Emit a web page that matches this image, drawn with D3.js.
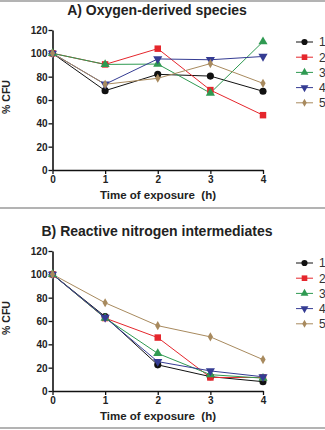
<!DOCTYPE html>
<html>
<head>
<meta charset="utf-8">
<script src="https://cdn.jsdelivr.net/npm/d3@7"></script>
<style>
  body { margin: 0; background: #fff; }
  text { font-family: "Liberation Sans", Arial, sans-serif; }
</style>
</head>
<body>
<div id="chart"></div>
<script>
const hours = [0, 1, 2, 3, 4];
const seriesNames = ["1", "2", "3", "4", "5"];
const yTicks = [0, 20, 40, 60, 80, 100, 120];

// A) oxygen-derived species, % CFU per series
const oxyS1 = [100, 68, 82, 80.5, 67.5];
const oxyS2 = [100, 90.5, 104, 68.5, 47];
const oxyS3 = [100, 90.5, 90.8, 66, 110];
const oxyS4 = [100, 73.5, 95.2, 94.5, 97.3];
const oxyS5 = [100, 73.5, 78.6, 91.2, 74.3];

// B) reactive nitrogen intermediates, % CFU per series
const rniS1 = [100, 63.8, 22.4, 12.3, 8];
const rniS2 = [100, 62.5, 45.8, 11.6, 11.6];
const rniS3 = [100, 62.5, 32.2, 14, 11];
const rniS4 = [100, 63, 25.2, 17.2, 12.2];
const rniS5 = [100, 75.6, 56, 46.4, 26.9];

const colors = ["#111111", "#e5262c", "#2f9a52", "#353c93", "#a88a5e"];
const symbols = [d3.symbolCircle, d3.symbolSquare, d3.symbolTriangle, d3.symbolTriangle, d3.symbolDiamond];
const symSize = [40, 42, 36, 36, 24];

const W = 325, H = 430;
const svg = d3.select("#chart").append("svg")
  .attr("width", W).attr("height", H);

// gray panel separators
[1, 208, 428].forEach(y => {
  svg.append("line")
     .attr("x1", 0).attr("x2", W).attr("y1", y).attr("y2", y)
     .attr("stroke", "#9a9a9a").attr("stroke-width", 1.5);
});

function panel(top, title, series) {
  const g = svg.append("g").attr("transform", "translate(0," + top + ")");
  const x = d3.scaleLinear().domain([0, 4]).range([52.5, 263]);
  const y = d3.scaleLinear().domain([0, 120]).range([170, 30]);

  g.append("text")
   .attr("x", 157).attr("y", 15)
   .attr("text-anchor", "middle")
   .style("font-size", "14px").style("font-weight", "bold")
   .attr("fill", "#222")
   .text(title);

  const xAxis = g.append("g")
     .attr("transform", "translate(0," + y(0) + ")")
     .call(d3.axisBottom(x).tickValues(hours).tickFormat(d3.format("d")).tickSize(4).tickSizeOuter(0));
  const yAxis = g.append("g")
     .attr("transform", "translate(" + x(0) + ",0)")
     .call(d3.axisLeft(y).tickValues(yTicks).tickSize(4).tickSizeOuter(0));

  [xAxis, yAxis].forEach(a => {
    a.select(".domain").attr("stroke", "#111").attr("stroke-width", 1.6);
    a.selectAll(".tick line").attr("stroke", "#111").attr("stroke-width", 1.3);
    a.selectAll(".tick text")
     .attr("fill", "#222")
     .style("font-size", "10px").style("font-weight", "bold");
  });
  yAxis.selectAll(".tick text").attr("x", -5).attr("dy", "0.35em");
  xAxis.selectAll(".tick text").attr("y", 6);

  g.append("text")
   .attr("x", 158).attr("y", 199)
   .attr("text-anchor", "middle")
   .style("font-size", "11.5px").style("font-weight", "bold")
   .style("white-space", "pre")
   .attr("fill", "#222")
   .text("Time of exposure  (h)");

  g.append("text")
   .attr("transform", "translate(10,97) rotate(-90)")
   .attr("text-anchor", "middle")
   .style("font-size", "10.5px").style("font-weight", "bold")
   .attr("fill", "#222")
   .text("% CFU");

  const line = d3.line().x((d, i) => x(hours[i])).y(d => y(d));

  series.forEach((vals, s) => {
    g.append("path")
     .attr("d", line(vals))
     .attr("fill", "none")
     .attr("stroke", colors[s])
     .attr("stroke-width", 1);
  });
  series.forEach((vals, s) => {
    g.selectAll(".m" + s)
     .data(vals)
     .enter()
     .append("path")
     .attr("d", d3.symbol().type(symbols[s]).size(symSize[s]))
     .attr("transform", (d, i) => "translate(" + x(hours[i]) + "," + y(d) + ")" + (s === 3 ? " rotate(180)" : ""))
     .attr("fill", colors[s]);
  });

  // legend
  const lg = g.append("g");
  seriesNames.forEach((name, s) => {
    const ly = 42 + s * 15.2;
    lg.append("line")
      .attr("x1", 296).attr("x2", 313).attr("y1", ly).attr("y2", ly)
      .attr("stroke", colors[s]).attr("stroke-width", 1);
    lg.append("path")
      .attr("d", d3.symbol().type(symbols[s]).size(symSize[s] * 0.75))
      .attr("transform", "translate(304.5," + ly + ")" + (s === 3 ? " rotate(180)" : ""))
      .attr("fill", colors[s]);
    lg.append("text")
      .attr("x", 319).attr("y", ly).attr("dy", "0.36em")
      .style("font-size", "12px")
      .attr("fill", "#333")
      .text(name);
  });
}

panel(0, "A) Oxygen-derived species", [oxyS1, oxyS2, oxyS3, oxyS4, oxyS5]);
panel(221, "B) Reactive nitrogen intermediates", [rniS1, rniS2, rniS3, rniS4, rniS5]);
</script>
</body>
</html>
